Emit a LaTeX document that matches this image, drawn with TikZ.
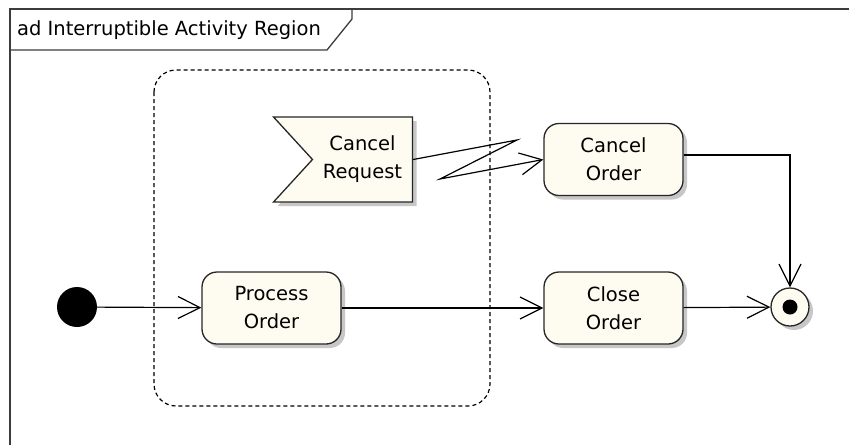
\documentclass[tikz,border=0pt]{standalone}
\usepackage{fontspec}
\setmainfont{DejaVu Sans}
\usetikzlibrary{arrows.meta,shapes.symbols,shadows}
\definecolor{cream}{RGB}{254,251,240}
\definecolor{framegray}{RGB}{60,60,60}
\begin{document}
\begin{tikzpicture}[x=1pt, y=-1pt,
        >={Straight Barb[length=22pt,width=22pt]},
        shade/.style={drop shadow={shadow xshift=4pt,shadow yshift=-4pt,fill=black!22,opacity=1}},
        action/.style={draw=black!85, line width=1.3pt, fill=cream, rounded corners=15,
            minimum width=139, minimum height=72, align=center, inner sep=0pt,
            font=\fontsize{19.5}{28}\selectfont, shade},
        accept/.style={signal, signal from=west, signal to=nowhere, signal pointer angle=95,
            draw=black!85, line width=1.3pt, fill=cream, minimum width=139, minimum height=85,
            align=center, inner sep=0pt, font=\fontsize{19.5}{28}\selectfont, shade},
        flow/.style={line width=1.2pt, ->}]
    \useasboundingbox (0,0) rectangle (849,445);
    % frame
    \draw[framegray, line width=1.8pt] (849,9) -- (10,9) -- (10,445);
    \draw[framegray, line width=1.3pt] (10,50) -- (327,50) -- (352,19) -- (352,9);
    \node[anchor=west, inner sep=0pt, font=\fontsize{19.5}{20}\selectfont] (title) at (17,30) {ad Interruptible Activity Region};
    % interruptible region
    \draw[line width=1.2pt, dash pattern=on 4pt off 3pt, rounded corners=22] (154,70) rectangle (490,406);
    % nodes
    \node[circle, fill=black, minimum size=40, inner sep=0pt] (start) at (77,307) {};
    \node[action] (process) at (271.5,308) {Process\\Order};
    \node[action] (close) at (613.5,308) {Close\\Order};
    \node[action] (cancel) at (613.5,159.5) {Cancel\\Order};
    \node[accept] (request) at (362.5,159.5) {Cancel\\Request};
    \node[circle, draw=black!85, line width=1.3pt, fill=cream, minimum size=38, inner sep=0pt, shade] (final) at (790,307) {};
    \fill (final.center) circle (7.5);
    % edges
    \coordinate (zigA) at (517,140);
    \coordinate (zigB) at (440,179);
    \draw[flow] (start) -- (process);
    \draw[flow] (process) -- (close);
    \draw[flow] (close) -- (final);
    \draw[flow] (request.east) -- (zigA) -- (zigB) -- (cancel.west);
    \draw[flow] ([yshift=4.5pt]cancel.east) -| (final);
\end{tikzpicture}
\end{document}
